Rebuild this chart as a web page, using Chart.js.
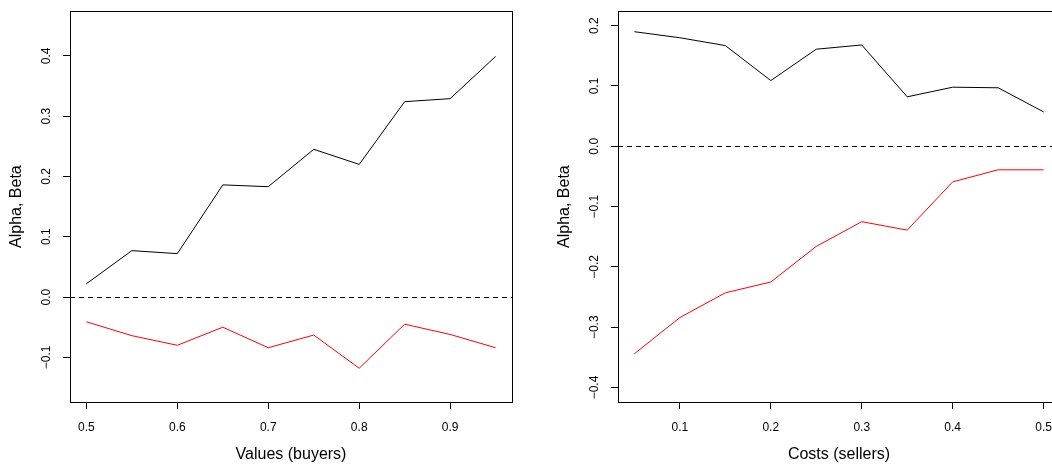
<!DOCTYPE html>
<html>
<head>
<meta charset="utf-8">
<script src="https://cdn.jsdelivr.net/npm/chart.js@4"></script>
<style>
  html, body { margin: 0; padding: 0; background: #fff; }
  body { width: 1052px; height: 464px; overflow: hidden; position: relative; }
  canvas { position: absolute; top: 0; }
  #buyersChart { left: 0; }
  #sellersChart { left: 548px; }
</style>
</head>
<body>
<canvas id="buyersChart" width="548" height="464"></canvas>
<canvas id="sellersChart" width="548" height="464"></canvas>
<script>
// Left panel: values (buyers)
const buyerValues = [0.5, 0.55, 0.6, 0.65, 0.7, 0.75, 0.8, 0.85, 0.9, 0.95];
const buyerAlpha = [0.022, 0.077, 0.072, 0.186, 0.183, 0.245, 0.220, 0.324, 0.329, 0.399];
const buyerBeta = [-0.041, -0.064, -0.080, -0.050, -0.084, -0.063, -0.118, -0.045, -0.062, -0.084];
const buyerYLim = [-0.15, 0.45];

// Right panel: costs (sellers)
const sellerCosts = [0.05, 0.1, 0.15, 0.2, 0.25, 0.3, 0.35, 0.4, 0.45, 0.5];
const sellerAlpha = [0.190, 0.180, 0.167, 0.109, 0.161, 0.168, 0.082, 0.098, 0.097, 0.057];
const sellerBeta = [-0.344, -0.284, -0.243, -0.225, -0.166, -0.125, -0.139, -0.059, -0.039, -0.039];
const sellerYLim = [-0.4, 0.2];

const tickStep = 0.1;

Chart.defaults.font.family = '"Liberation Sans", Arial, Helvetica, sans-serif';
Chart.defaults.color = "#000";

function fmt(v) {
  const s = Math.abs(v) < 1e-9 ? "0.0" : v.toFixed(1);
  return s.replace("-", "\u2212");
}

// R style axis range: extend by 4% on each side
function extend(lo, hi) {
  const pad = (hi - lo) * 0.04;
  return [lo - pad, hi + pad];
}

// box round the plot + dashed line at zero
const framePlugin = {
  id: "frame",
  beforeDatasetsDraw(chart) {
    const { ctx, chartArea, scales } = chart;
    const y = Math.round(scales.y.getPixelForValue(0)) + 0.5;
    ctx.save();
    ctx.strokeStyle = "#000";
    ctx.lineWidth = 1;
    ctx.setLineDash([5, 4]);
    ctx.beginPath();
    ctx.moveTo(chartArea.left, y);
    ctx.lineTo(chartArea.right, y);
    ctx.stroke();
    ctx.restore();
  },
  afterDraw(chart) {
    const { ctx, chartArea } = chart;
    ctx.save();
    ctx.strokeStyle = "#000";
    ctx.lineWidth = 1;
    ctx.strokeRect(
      Math.round(chartArea.left) + 0.5,
      Math.round(chartArea.top) + 0.5,
      Math.round(chartArea.right - chartArea.left),
      Math.round(chartArea.bottom - chartArea.top)
    );
    ctx.restore();
  },
};

function makeChart(id, xs, alpha, beta, xTitle, ylim) {
  const xr = extend(xs[0], xs[xs.length - 1]);
  const yr = extend(ylim[0], ylim[1]);
  return new Chart(document.getElementById(id), {
    type: "line",
    data: {
      datasets: [
        {
          data: xs.map((x, i) => ({ x: x, y: alpha[i] })),
          borderColor: "#000",
          borderWidth: 1,
          pointRadius: 0,
          tension: 0,
        },
        {
          data: xs.map((x, i) => ({ x: x, y: beta[i] })),
          borderColor: "#ff0000",
          borderWidth: 1,
          pointRadius: 0,
          tension: 0,
        },
      ],
    },
    options: {
      responsive: false,
      animation: false,
      events: [],
      layout: { padding: { top: 5, right: 36, left: 0, bottom: 0 } },
      plugins: { legend: { display: false }, tooltip: { enabled: false } },
      scales: {
        x: {
          type: "linear",
          min: xr[0],
          max: xr[1],
          border: { display: false },
          grid: { drawOnChartArea: false, drawTicks: true, tickLength: 7, color: "#000", lineWidth: 1 },
          ticks: {
            stepSize: tickStep,
            includeBounds: false,
            padding: 11,
            font: { size: 12 },
            maxRotation: 0,
            autoSkip: false,
            callback: (v) => fmt(v),
          },
          title: {
            display: true,
            text: xTitle,
            font: { size: 16, lineHeight: 1.125 },
            padding: { top: 0, bottom: 0 },
          },
          afterFit: (scale) => { scale.height = 62; },
        },
        y: {
          type: "linear",
          min: yr[0],
          max: yr[1],
          border: { display: false },
          grid: { drawOnChartArea: false, drawTicks: true, tickLength: 7, color: "#000", lineWidth: 1 },
          ticks: {
            stepSize: tickStep,
            includeBounds: false,
            minRotation: 90,
            maxRotation: 90,
            crossAlign: "center",
            padding: 4,
            font: { size: 12 },
            autoSkip: false,
            callback: (v) => fmt(v),
          },
          title: {
            display: true,
            text: "Alpha, Beta",
            font: { size: 16, lineHeight: 1.25 },
            padding: { top: 7, bottom: 0 },
          },
          afterFit: (scale) => { scale.width = 70; },
        },
      },
    },
    plugins: [framePlugin],
  });
}

window.addEventListener("DOMContentLoaded", () => {
  makeChart("buyersChart", buyerValues, buyerAlpha, buyerBeta, "Values (buyers)", buyerYLim);
  makeChart("sellersChart", sellerCosts, sellerAlpha, sellerBeta, "Costs (sellers)", sellerYLim);
});
</script>
</body>
</html>
